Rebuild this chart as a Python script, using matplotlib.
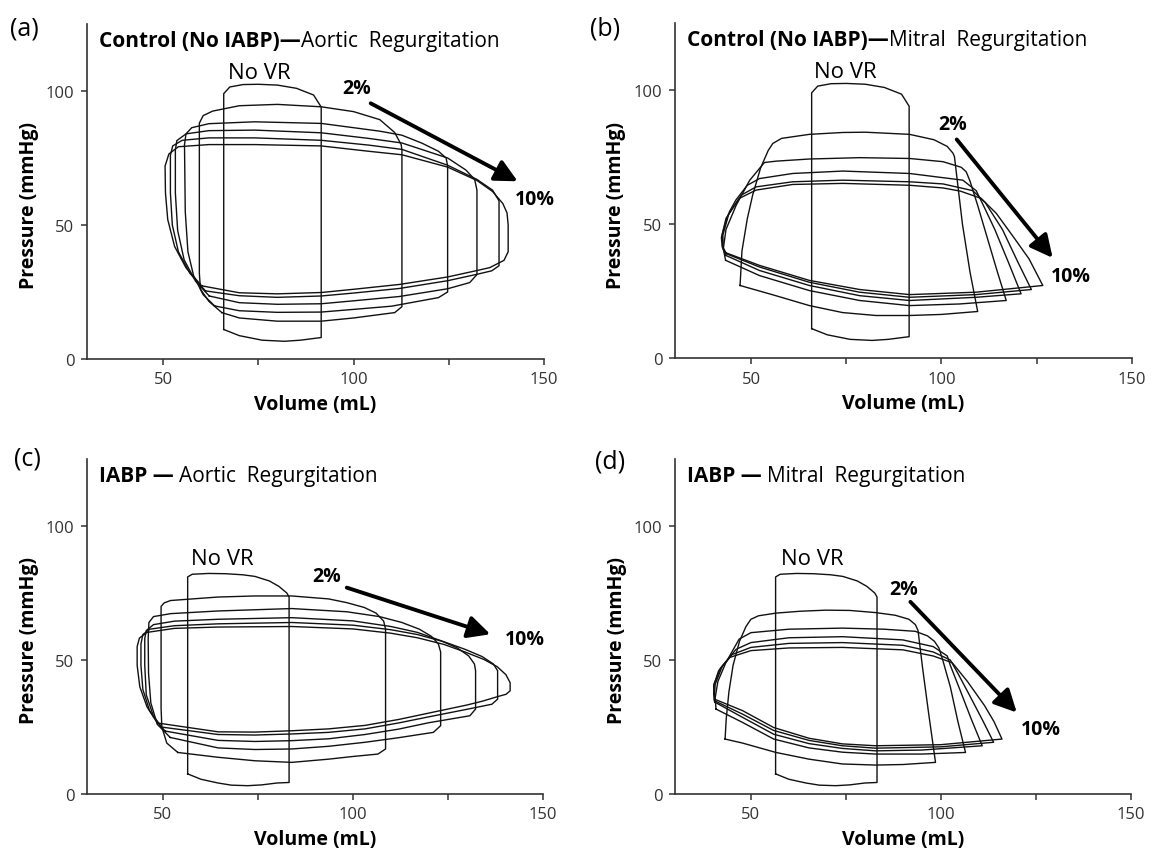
import matplotlib.pyplot as plt

plt.rcParams['font.family'] = ['Open Sans', 'DejaVu Sans']

# loop outlines as (volume mL, pressure mmHg)

# no valve regurgitation
CTRL_NOVR = [(65.9, 11.0), (65.9, 99.0), (67.5, 101.5), (71, 102.4), (75, 102.5), (80, 102.2),
             (85, 101.0), (89.5, 98.5), (91.5, 94.0), (91.5, 8.0), (86, 7.0), (81.8, 6.6),
             (76, 7.0), (70, 8.7), (65.9, 11.0)]
IABP_NOVR = [(56.5, 7.5), (56.5, 81.0), (57.7, 82.0), (62, 82.3), (66.5, 82.2), (71, 81.8),
             (74.2, 81.2), (78, 79.5), (80.5, 77.5), (82.6, 75.0), (83.2, 73.5), (83.2, 4.3),
             (80, 4.1), (76, 3.4), (72.3, 3.1), (68, 3.3), (64.5, 4.1), (60, 5.5), (56.5, 7.5)]

# (a) control, aortic regurgitation 2..10 %
A_AR2 = [(65.4, 17.3), (62, 21.5), (59.8, 26), (59.5, 32), (59.5, 88), (60.5, 90.8), (63, 92.5),
         (70, 94.5), (80, 95), (91.5, 94.1), (100, 92.3), (106.9, 89.3), (110.8, 84.5),
         (112.5, 80), (112.7, 78), (112.7, 19.5), (110.8, 17.3), (100, 15.3), (91.5, 14.1),
         (80, 14.1), (70, 15.3), (65.4, 17.3)]
A_AR4 = [(63.5, 19.8), (60.5, 24), (58, 31), (56.5, 40), (55.8, 55), (55.6, 80), (56, 84),
         (57.5, 86.3), (62, 87.8), (74, 88.5), (91.5, 87.9), (106.9, 85), (112.7, 83.5),
         (118, 80.5), (122.3, 77.5), (124.3, 75), (124.7, 72), (124.7, 25), (122.3, 22.9),
         (110, 19.7), (100, 18.5), (91.5, 17.5), (80, 17.4), (70, 18.0), (63.5, 19.8)]
A_AR6 = [(62.1, 23.5), (58.5, 29), (55.5, 37), (53.8, 48), (53.2, 62), (53.2, 78), (53.6, 81.5),
         (56, 84), (62, 85.2), (74.1, 85.4), (91.5, 84.4), (104, 82.3), (112.7, 80.6),
         (124.7, 75), (129.5, 70.5), (131.8, 67), (132.4, 63), (132.4, 31.5), (130.5, 28.5),
         (124.7, 26.2), (112, 23.3), (100, 21.7), (91.5, 20.6), (80, 20.4), (70, 21),
         (62.1, 23.5)]
A_AR8 = [(61.1, 25.4), (57, 32), (54, 40), (52.4, 50), (51.9, 62), (51.9, 76), (52.5, 79.5),
         (55, 81.6), (62, 82.5), (74.1, 82.5), (91.5, 81.6), (104, 79.8), (112.7, 78.2),
         (124.7, 72.3), (132.4, 67), (136.5, 63), (138.2, 59), (138.2, 34.8), (136.3, 32.9),
         (132.4, 31.6), (124.7, 29.2), (112, 26.3), (100, 24.6), (91.5, 23.5), (80, 23.0),
         (70, 23.6), (61.1, 25.4)]
A_AR10 = [(60.1, 27.3), (56, 34), (53, 42), (51.2, 52), (50.6, 62), (50.5, 72), (51.5, 76.5),
          (54, 79.2), (62, 80), (74.1, 80), (91.5, 79.5), (104, 77.5), (112.7, 76.2),
          (124.7, 71.6), (132.4, 66.6), (136.5, 62.5), (139.2, 58), (140.3, 54.5), (140.6, 50),
          (140.6, 40), (139.5, 36.8), (135.8, 34.1), (132.4, 33.0), (124.7, 30.6), (112, 27.8),
          (100, 26.0), (91.5, 24.8), (80, 24.3), (70, 24.7), (60.1, 27.3)]

# (b) control, mitral regurgitation 2..10 %
B_MR2 = [(47.1, 27.1), (47.6, 40), (49, 52), (50.4, 60.8), (52.5, 71), (54.5, 77.5),
         (55.7, 80.1), (58, 82), (65.3, 83.5), (74.1, 84.2), (80, 84.3), (91.6, 83.5),
         (98, 81.5), (101.5, 79), (103, 76.5), (103.4, 75.2), (105.5, 50), (107.5, 32),
         (109.5, 17.4), (100, 16.3), (91.6, 15.9), (82.8, 15.9), (74, 17.0), (65.3, 19.6),
         (56, 23.5), (47.1, 27.1)]
B_MR4 = [(43.3, 36.5), (52.2, 30.8), (65.3, 25.2), (78.5, 21.5), (91.6, 19.6), (104.7, 20.2),
         (117.0, 21.5), (114.5, 33), (112, 45), (109.5, 57), (107.5, 66), (106.5, 69.5),
         (105.2, 71.2), (100.4, 73.3), (91.6, 74.5), (78.5, 74.8), (65.3, 74.3), (56.6, 73.5),
         (53.5, 73.0), (49.6, 66.3), (46.1, 57.1), (43.4, 48.0), (42.7, 40.8), (43.3, 36.5)]
B_MR6 = [(43.4, 38.3), (52.2, 32.7), (65.3, 27.1), (78.5, 23.3), (91.6, 21.5), (109.1, 22.7),
         (120.9, 24.0), (117.5, 36), (114, 48), (111, 57), (109.1, 62.5), (105.6, 66.4),
         (91.6, 68.9), (74.1, 69.8), (60.9, 68.9), (52.2, 67.0), (49, 64.5), (46, 59),
         (44.3, 54.6), (42.6, 46), (42.6, 40.8), (43.4, 38.3)]
B_MR8 = [(43.4, 39.0), (52.2, 34.0), (65.3, 28.3), (78.5, 24.6), (91.6, 22.7), (109.1, 23.7),
         (123.6, 25.6), (120, 36), (116, 48), (111.5, 58), (108.2, 62.5), (100.4, 65.0),
         (91.6, 65.8), (74.1, 66.4), (60.9, 65.8), (51.3, 63.9), (47.4, 60.8), (43.9, 53.3),
         (42.4, 46), (42.6, 41.5), (43.4, 39.0)]
B_MR10 = [(43.4, 39.3), (52.2, 34.6), (65.3, 29.0), (78.5, 25.6), (91.6, 23.7), (109.1, 24.6),
          (126.6, 27.1), (123, 37), (119.2, 44.6), (114.4, 54.0), (110.4, 59.6), (105, 62.3),
          (100.4, 63.5), (91.6, 64.5), (74.1, 65.2), (60.9, 64.8), (51.3, 62.7), (46.9, 59.6),
          (43.4, 52.1), (42.2, 45), (42.4, 41.5), (43.4, 39.3)]

# (c) IABP, aortic regurgitation 2..10 %
C_AR2 = [(53.9, 15.5), (51, 19), (49.7, 25), (49.5, 32), (49.5, 70), (50.3, 71.3), (52, 72.2),
         (64.5, 73.5), (74.2, 73.9), (83.9, 73.9), (93.6, 72.8), (98.4, 71.4), (103, 69.6),
         (106.1, 67.5), (108.1, 64.5), (108.6, 61.5), (108.6, 16.8), (106.6, 14.9), (100, 14),
         (93.6, 13.0), (83.9, 11.8), (74.2, 12.4), (64.5, 13.7), (53.9, 15.5)]
C_AR4 = [(51.9, 21.1), (48.5, 26), (46.8, 34), (46.2, 45), (46.1, 58), (46.3, 64), (47.5, 66.2),
         (52, 67.3), (64.5, 68.3), (83.9, 69.2), (98.4, 68.0), (107, 66.2), (112.9, 64.0),
         (117.5, 61.5), (120.7, 58.8), (122.5, 56), (123.1, 53), (123.1, 25.5), (121.2, 23.0),
         (112, 21), (103.2, 19.3), (93.6, 17.8), (83.9, 16.8), (74.2, 16.6), (64.5, 17.2),
         (51.9, 21.1)]
C_AR6 = [(50.5, 23.5), (47.5, 29), (45.6, 37), (45.2, 48), (45.2, 58), (45.6, 61), (47.5, 63.2),
         (53, 64.5), (64.5, 65.2), (83.9, 65.8), (100, 64.6), (110, 62.5), (117, 60.3),
         (123, 57.3), (127.5, 54.5), (130.5, 51.5), (132, 48.5), (132.3, 46), (132.3, 31.7),
         (130.8, 29.2), (125, 27.8), (120, 26.6), (112, 24.2), (103.2, 22.2), (93.6, 20.6),
         (83.9, 19.9), (74.2, 19.6), (64.5, 20.0), (50.5, 23.5)]
C_AR8 = [(49.5, 25.0), (46.5, 31), (44.7, 39), (44.2, 48), (44.2, 56), (44.7, 59.5),
         (46.5, 61.5), (53, 62.8), (64.5, 63.5), (83.9, 64.0), (100, 63.0), (110, 61.3),
         (117, 59.5), (124, 56.8), (129.5, 54), (134, 51.3), (137, 48.5), (138.1, 46),
         (138.1, 35.4), (136.6, 33.5), (130, 31.6), (120, 28.8), (112, 26.5), (103.2, 24.3),
         (93.6, 23.0), (83.9, 22.4), (74.2, 22.0), (64.5, 22.2), (49.5, 25.0)]
C_AR10 = [(48.5, 26.5), (45.8, 32.5), (43.9, 40), (43.2, 48), (43.2, 55), (43.8, 58.2),
          (45.8, 60.3), (53, 61.8), (64.5, 62.3), (83.9, 62.5), (100, 61.6), (110, 60.0),
          (117, 58.3), (124, 55.8), (129.5, 53), (134.5, 50.2), (138, 47.5), (140.3, 44.5),
          (141.4, 41.5), (141.4, 38.5), (140.3, 37.2), (138.5, 36.5), (134, 34.6), (130, 33.2),
          (120, 30.2), (112, 27.8), (103.2, 25.6), (93.6, 24.3), (83.9, 23.6), (74.2, 23.1),
          (64.5, 23.2), (48.5, 26.5)]

# (d) IABP, mitral regurgitation 2..10 %
D_MR2 = [(43.2, 20.5), (43.5, 28), (44.2, 38), (45.3, 48), (47, 57), (48.7, 62.5), (50, 65.2),
         (52, 66.5), (56.6, 67.5), (63, 68.2), (69.7, 68.6), (76, 68.5), (82.8, 67.7),
         (88, 66.7), (91.6, 65.2), (93.3, 63.2), (94.0, 61.0), (95.2, 47), (96.8, 30),
         (98.6, 11.8), (90, 11.0), (82.8, 10.8), (74.1, 11.2), (65.3, 13.0), (56.6, 15.5),
         (47.8, 19.0), (43.2, 20.5)]
D_MR4 = [(40.8, 31.7), (47.8, 26.7), (56, 20.5), (65.3, 17.2), (74.1, 15.6), (82.8, 14.9),
         (95, 14.9), (106.5, 15.5), (104.5, 27), (102.5, 40), (100.5, 50), (99.5, 54.5),
         (98.3, 57), (96.5, 59), (93.3, 60.7), (85, 61.5), (74.1, 61.9), (60, 61.5),
         (50, 60.2), (46.9, 57.8), (43.4, 49), (41.3, 42), (40.6, 36), (40.8, 31.7)]
D_MR6 = [(40.6, 34.2), (47.8, 28.6), (56, 22.3), (65.3, 18.8), (74.1, 17.0), (82.8, 16.1),
         (95, 16.4), (110.9, 18.0), (108, 28), (105, 39), (102.5, 48), (101.7, 51.5),
         (98, 55), (90, 57.5), (74.1, 58.7), (60, 58.3), (50, 56.5), (46.1, 54.0),
         (42.5, 47.8), (40.6, 41), (40.4, 37), (40.6, 34.2)]
D_MR8 = [(40.4, 34.8), (47.8, 29.8), (56, 23.7), (65.3, 20.0), (74.1, 18.0), (82.8, 17.1),
         (100, 17.6), (113.9, 19.3), (111, 27.5), (107.5, 37), (104.5, 45), (102.5, 50.0),
         (98, 53), (90, 55.5), (74.1, 56.5), (60, 56.2), (50, 54.7), (45, 52.0), (42, 47),
         (40.3, 41), (40.2, 37.5), (40.4, 34.8)]
D_MR10 = [(40.4, 35.4), (47.8, 31.1), (56, 24.8), (65.3, 20.8), (74.1, 18.7), (82.8, 18.0),
          (100, 18.4), (116.1, 20.5), (114, 27), (111.5, 33), (107, 42), (103.0, 49.0),
          (98, 51.5), (90, 53.8), (74.1, 54.7), (60, 54.5), (50, 53.5), (44.5, 51.0),
          (41.5, 46), (40.2, 40.5), (40.4, 35.4)]

X_TICKS = [50, 75, 100, 125, 150]
X_TICK_LABELS = ['50', '', '100', '', '150']
Y_TICKS = [0, 50, 100]

panels = [
    dict(label='(a)', bold='Control (No IABP)\u2014', normal='Aortic  Regurgitation',
         loops=[CTRL_NOVR, A_AR2, A_AR4, A_AR6, A_AR8, A_AR10],
         novr=(75.3, 107), p2=(100.8, 101), p10=(147.6, 59.8),
         arrow=((104.5, 95.4), (143.1, 66.3)),
         rect=[0.0756, 0.578, 0.397, 0.3927], lab_xy=(0.009, 0.966)),
    dict(label='(b)', bold='Control (No IABP)\u2014', normal='Mitral  Regurgitation',
         loops=[CTRL_NOVR, B_MR2, B_MR4, B_MR6, B_MR8, B_MR10],
         novr=(74.7, 107), p2=(103.0, 87.2), p10=(134.0, 30.5),
         arrow=((104.0, 81.6), (129.2, 37.4)),
         rect=[0.5864, 0.579, 0.397, 0.3927], lab_xy=(0.513, 0.966)),
    dict(label='(c)', bold='IABP \u2014 ', normal='Aortic  Regurgitation',
         loops=[IABP_NOVR, C_AR2, C_AR4, C_AR6, C_AR8, C_AR10],
         novr=(65.7, 87.8), p2=(93.1, 81.4), p10=(145.4, 57.8),
         arrow=((98.4, 77.0), (136.2, 59.6)),
         rect=[0.0756, 0.068, 0.396, 0.3927], lab_xy=(0.012, 0.462)),
    dict(label='(d)', bold='IABP \u2014 ', normal='Mitral  Regurgitation',
         loops=[IABP_NOVR, D_MR2, D_MR4, D_MR6, D_MR8, D_MR10],
         novr=(66.2, 87.8), p2=(90.1, 76.4), p10=(126.3, 24.2),
         arrow=((92.0, 71.7), (120.0, 30.4)),
         rect=[0.5864, 0.068, 0.396, 0.3927], lab_xy=(0.517, 0.458)),
]

fig = plt.figure(figsize=(11.51, 8.53), dpi=100)

for pn in panels:
    ax = fig.add_axes(pn['rect'])
    for loop in pn['loops']:
        vol = [pt[0] for pt in loop]
        prs = [pt[1] for pt in loop]
        ax.plot(vol, prs, color='#111111', lw=1.0, solid_joinstyle='round')

    ax.set_xlim(30, 150)
    ax.set_ylim(0, 125)
    ax.spines['top'].set_visible(False)
    ax.spines['right'].set_visible(False)
    for s in ('left', 'bottom'):
        ax.spines[s].set_color('#333333')
        ax.spines[s].set_linewidth(1.2)
    ax.set_xticks(X_TICKS)
    ax.set_xticklabels(X_TICK_LABELS)
    ax.set_yticks(Y_TICKS)
    ax.tick_params(direction='out', length=4, width=1.1, color='#333333',
                   labelsize=12, labelcolor='#333333', pad=5)

    ax.set_xlabel('Volume (mL)', fontsize=14, fontweight='bold', va='center')
    ax.set_ylabel('Pressure (mmHg)', fontsize=14, fontweight='bold', va='center')
    ax.xaxis.set_label_coords(0.5, -0.135)
    ax.yaxis.set_label_coords(-0.128, 0.46)

    t = ax.text(0.026, 0.952, pn['bold'], transform=ax.transAxes, fontsize=15,
                fontweight='bold', va='center', ha='left')
    ax.annotate(pn['normal'], xy=(1, 0), xycoords=t, va='bottom', ha='left', fontsize=15)

    ax.text(*pn['novr'], 'No VR', fontsize=16, ha='center', va='center')
    ax.text(*pn['p2'], '2%', fontsize=14, fontweight='bold', ha='center', va='center')
    ax.text(*pn['p10'], '10%', fontsize=14, fontweight='bold', ha='center', va='center')
    a0, a1 = pn['arrow']
    ax.annotate('', xy=a1, xytext=a0,
                arrowprops=dict(arrowstyle='-|>,head_length=0.9,head_width=0.45',
                                lw=2.8, color='black', shrinkA=0, shrinkB=0,
                                mutation_scale=15))

    fig.text(*pn['lab_xy'], pn['label'], fontsize=18, ha='left', va='center')

fig.savefig('out.png', dpi=100)
